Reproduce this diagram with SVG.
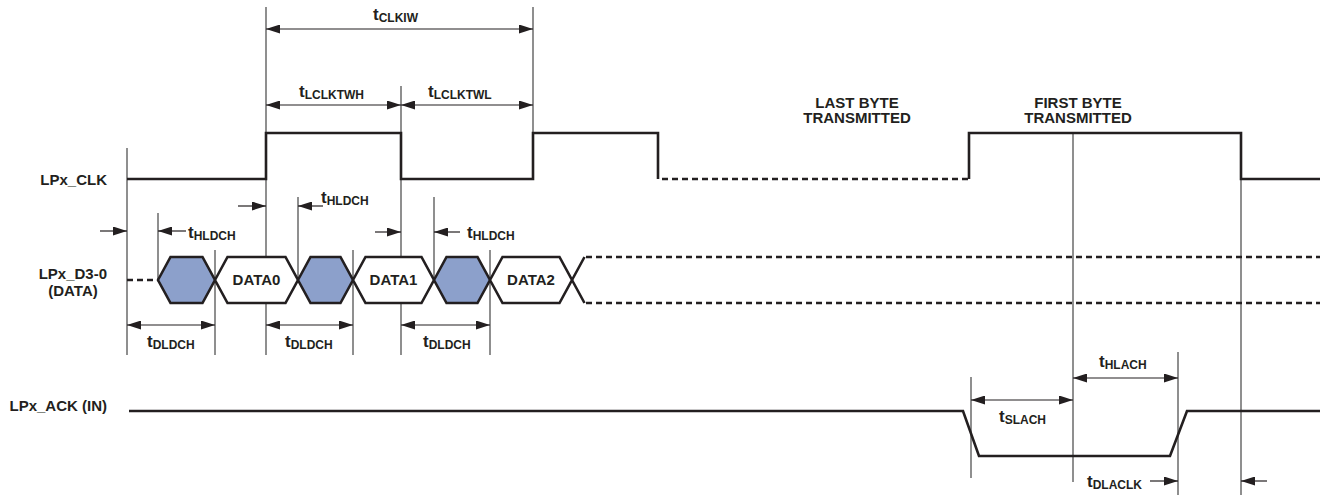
<svg xmlns="http://www.w3.org/2000/svg" width="1327" height="495" viewBox="0 0 1327 495">
<style>
text{font-family:"Liberation Sans",Arial,Helvetica,sans-serif;font-weight:bold;fill:#231f20}
.lbl{font-size:15px}
.t{font-size:17px}
.sub{font-size:12px}
.sig{fill:none;stroke:#231f20;stroke-width:2.6;stroke-linejoin:miter}
.dash{fill:none;stroke:#231f20;stroke-width:2.6;stroke-dasharray:6 4}
.hex{stroke:#231f20;stroke-width:2.6;stroke-linejoin:miter}
.blue{fill:#8ca0cb}
.white{fill:#ffffff}
.ref{stroke:#333;stroke-width:1.1;fill:none}
.arr{stroke:#231f20;stroke-width:1.2;fill:none;marker-end:url(#ah)}
.arr2{stroke:#231f20;stroke-width:1.2;fill:none;marker-start:url(#ah);marker-end:url(#ah)}
</style>
<defs>
<marker id="ah" markerUnits="userSpaceOnUse" markerWidth="14" markerHeight="9" refX="14" refY="4.5" orient="auto-start-reverse">
<path d="M0,0 L14,4.5 L0,9 z" fill="#231f20"/>
</marker>
</defs>
<rect width="1327" height="495" fill="#fff"/>

<g id="labels">
<text class="lbl" x="107" y="185" text-anchor="end">LPx_CLK</text>
<text class="lbl" x="107" y="279" text-anchor="end">LPx_D3-0</text>
<text class="lbl" x="73" y="296" text-anchor="middle">(DATA)</text>
<text class="lbl" x="107" y="411" text-anchor="end">LPx_ACK (IN)</text>
<text class="lbl" x="857" y="108" text-anchor="middle">LAST BYTE</text>
<text class="lbl" x="857" y="123" text-anchor="middle">TRANSMITTED</text>
<text class="lbl" x="1078" y="108" text-anchor="middle">FIRST BYTE</text>
<text class="lbl" x="1078" y="123" text-anchor="middle">TRANSMITTED</text>
</g>

<g id="connectors">
<!-- reference lines -->
<line class="ref" x1="127" y1="148" x2="127" y2="355"/>
<line class="ref" x1="266" y1="7" x2="266" y2="355"/>
<line class="ref" x1="401" y1="86" x2="401" y2="355"/>
<line class="ref" x1="533" y1="7" x2="533" y2="134"/>
<line class="ref" x1="215" y1="250" x2="215" y2="355"/>
<line class="ref" x1="353" y1="250" x2="353" y2="355"/>
<line class="ref" x1="490" y1="250" x2="490" y2="355"/>
<line class="ref" x1="158" y1="213" x2="158" y2="280"/>
<line class="ref" x1="298" y1="197" x2="298" y2="280"/>
<line class="ref" x1="434" y1="197" x2="434" y2="280"/>
<line class="ref" x1="1073" y1="133" x2="1073" y2="482"/>
<line class="ref" x1="1241" y1="179" x2="1241" y2="495"/>
<line class="ref" x1="1178" y1="352" x2="1178" y2="495"/>
<line class="ref" x1="971" y1="377" x2="971" y2="478"/>
<!-- dimension arrows -->
<line class="arr2" x1="266" y1="29" x2="533" y2="29"/>
<line class="arr2" x1="266" y1="105" x2="401" y2="105"/>
<line class="arr2" x1="401" y1="105" x2="533" y2="105"/>
<line class="arr" x1="100" y1="231" x2="127" y2="231"/>
<line class="arr" x1="186" y1="231" x2="158" y2="231"/>
<line class="arr" x1="238" y1="206" x2="266" y2="206"/>
<line class="arr" x1="323" y1="206" x2="298" y2="206"/>
<line class="arr" x1="375" y1="232" x2="401" y2="232"/>
<line class="arr" x1="460" y1="232" x2="434" y2="232"/>
<line class="arr2" x1="127" y1="325" x2="215" y2="325"/>
<line class="arr2" x1="266" y1="325" x2="353" y2="325"/>
<line class="arr2" x1="401" y1="325" x2="490" y2="325"/>
<line class="arr2" x1="971" y1="400" x2="1073" y2="400"/>
<line class="arr2" x1="1073" y1="378" x2="1178" y2="378"/>
<line class="arr" x1="1150" y1="481" x2="1178" y2="481"/>
<line class="arr" x1="1267" y1="481" x2="1241" y2="481"/>
</g>

<g id="timing-labels">
<text class="t" x="373" y="20">t<tspan class="sub" dy="2">CLKIW</tspan></text>
<text class="t" x="299" y="96.5">t<tspan class="sub" dy="2">LCLKTWH</tspan></text>
<text class="t" x="428" y="96.5">t<tspan class="sub" dy="2">LCLKTWL</tspan></text>
<text class="t" x="188" y="238">t<tspan class="sub" dy="2">HLDCH</tspan></text>
<text class="t" x="321" y="203">t<tspan class="sub" dy="2">HLDCH</tspan></text>
<text class="t" x="467" y="238">t<tspan class="sub" dy="2">HLDCH</tspan></text>
<text class="t" x="147" y="347">t<tspan class="sub" dy="2">DLDCH</tspan></text>
<text class="t" x="285" y="347">t<tspan class="sub" dy="2">DLDCH</tspan></text>
<text class="t" x="423" y="347">t<tspan class="sub" dy="2">DLDCH</tspan></text>
<text class="t" x="999" y="422">t<tspan class="sub" dy="2">SLACH</tspan></text>
<text class="t" x="1099" y="367">t<tspan class="sub" dy="2">HLACH</tspan></text>
<text class="t" x="1087" y="487">t<tspan class="sub" dy="2">DLACLK</tspan></text>
</g>

<g id="clk">
<path class="sig" d="M127,179 H266 V133 H401 V179 H533 V133 H658 V179"/>
<path class="dash" d="M662,179 H969"/>
<path class="sig" d="M969,179 V133 H1241 V179 H1320"/>
</g>

<g id="data">
<path class="dash" d="M127,280 H158"/>
<polygon class="hex blue" points="158,280 170.5,257 202.5,257 215,280 202.5,303 170.5,303"/>
<polygon class="hex white" points="215,280 227.5,257 285.5,257 298,280 285.5,303 227.5,303"/>
<polygon class="hex blue" points="298,280 310.5,257 340.5,257 353,280 340.5,303 310.5,303"/>
<polygon class="hex white" points="353,280 365.5,257 421.5,257 434,280 421.5,303 365.5,303"/>
<polygon class="hex blue" points="434,280 446.5,257 477.5,257 490,280 477.5,303 446.5,303"/>
<polygon class="hex white" points="490,280 502.5,257 559.5,257 572,280 559.5,303 502.5,303"/>
<path class="sig" d="M572,280 L584.5,257 M572,280 L584.5,303"/>
<path class="dash" d="M586,257 H1320 M586,303 H1320"/>
<text class="lbl" x="256.5" y="285" text-anchor="middle">DATA0</text>
<text class="lbl" x="393.5" y="285" text-anchor="middle">DATA1</text>
<text class="lbl" x="531" y="285" text-anchor="middle">DATA2</text>
</g>

<g id="ack">
<path class="sig" d="M129,411 H963 L979,456 H1170 L1187,411 H1320"/>
</g>
</svg>
